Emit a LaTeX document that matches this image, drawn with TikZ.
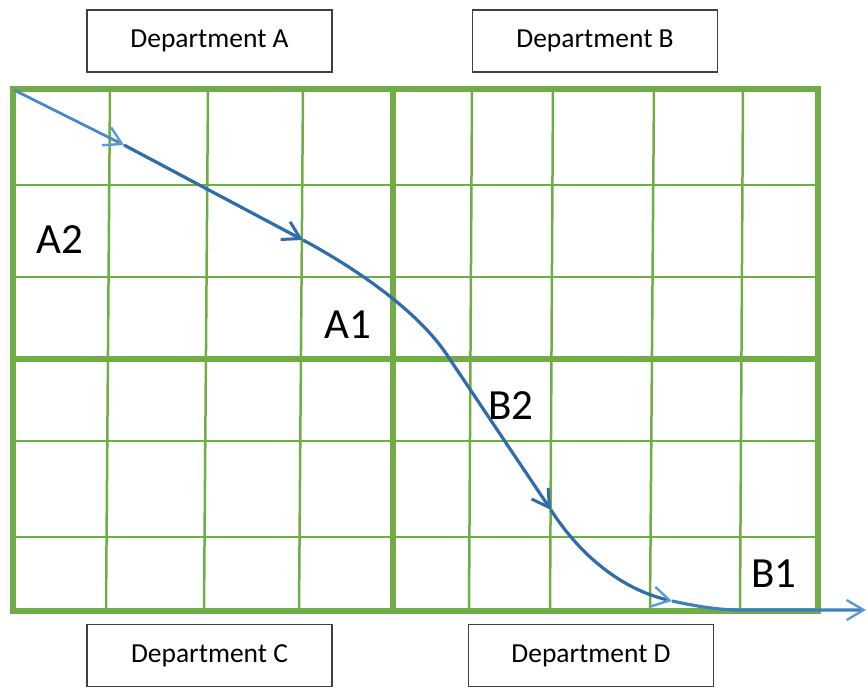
\documentclass[tikz,border=0pt]{standalone}
\usepackage{fontspec}
\setmainfont{Carlito}
\usetikzlibrary{arrows.meta}
\definecolor{gridgreen}{RGB}{112,173,71}
\definecolor{darkflow}{RGB}{46,108,172}
\definecolor{lightflow}{RGB}{91,155,213}
\begin{document}
\begin{tikzpicture}[x=1pt,y=-1pt,
  thin grid/.style={draw=gridgreen,line width=2.5pt},
  thick grid/.style={draw=gridgreen,line width=5.5pt},
  dept/.style={draw=black!75,line width=1.4pt,fill=white,minimum width=245pt,minimum height=62pt,inner sep=0pt,font=\fontsize{27.5}{32}\selectfont},
  lbl/.style={inner sep=0pt,font=\fontsize{43}{48}\selectfont},
  flow/.style={draw=darkflow,line width=3.2pt},
  lighttip/.style={-{Straight Barb[length=17pt,width=20pt,line width=2.4pt,color=lightflow]}},
  darktip/.style={-{Straight Barb[length=17pt,width=20pt,line width=3pt,color=darkflow]}}]
\useasboundingbox (0,0) rectangle (868,688);
% thin grid lines
\foreach \xa/\xb in {110/106,208/204,303/299,472/469,553/550,654/650,743/740}
  \draw[thin grid] (\xa,89) -- (\xb,611);
\foreach \yy in {185,277,441,537}
  \draw[thin grid] (13,\yy) -- (818,\yy);
% thick lines
\draw[thick grid] (393,89) -- (393,611);
\draw[thick grid] (13,359) -- (818,359);
\draw[thick grid] (13,89) rectangle (818,611);
% department boxes
\node[dept] (da) at (209.5,41) {Department A};
\node[dept] (db) at (595,41) {Department B};
\node[dept] (dc) at (209.5,655.5) {Department C};
\node[dept] (dd) at (591,655.5) {Department D};
% flow path coordinates
\coordinate (s0) at (14,90);
\coordinate (a1) at (124,145);
\coordinate (a2) at (303,240);
\coordinate (k1) at (445,352);
\coordinate (a3) at (551,510);
\coordinate (a4) at (672,601);
\coordinate (k2) at (740,610);
\coordinate (e) at (866,610);
% flow path
\draw[flow,line width=2.8pt,draw=lightflow!60!darkflow,lighttip] (s0) -- (a1);
\draw[flow,darktip] (a1) -- (a2);
\draw[flow,darktip] (a2) .. controls (355,268) and (415,309) .. (k1) -- (a3);
\draw[flow,lighttip] (a3) .. controls (576,549) and (616,588) .. (a4);
\draw[flow,draw=lightflow!40!darkflow,lighttip] (a4) .. controls (700,607) and (720,610) .. (k2) -- (e);
% labels
\node[lbl] (la2) at (60,240) {A2};
\node[lbl] (la1) at (348,325) {A1};
\node[lbl] (lb2) at (511,406) {B2};
\node[lbl] (lb1) at (774,574) {B1};
\end{tikzpicture}
\end{document}
